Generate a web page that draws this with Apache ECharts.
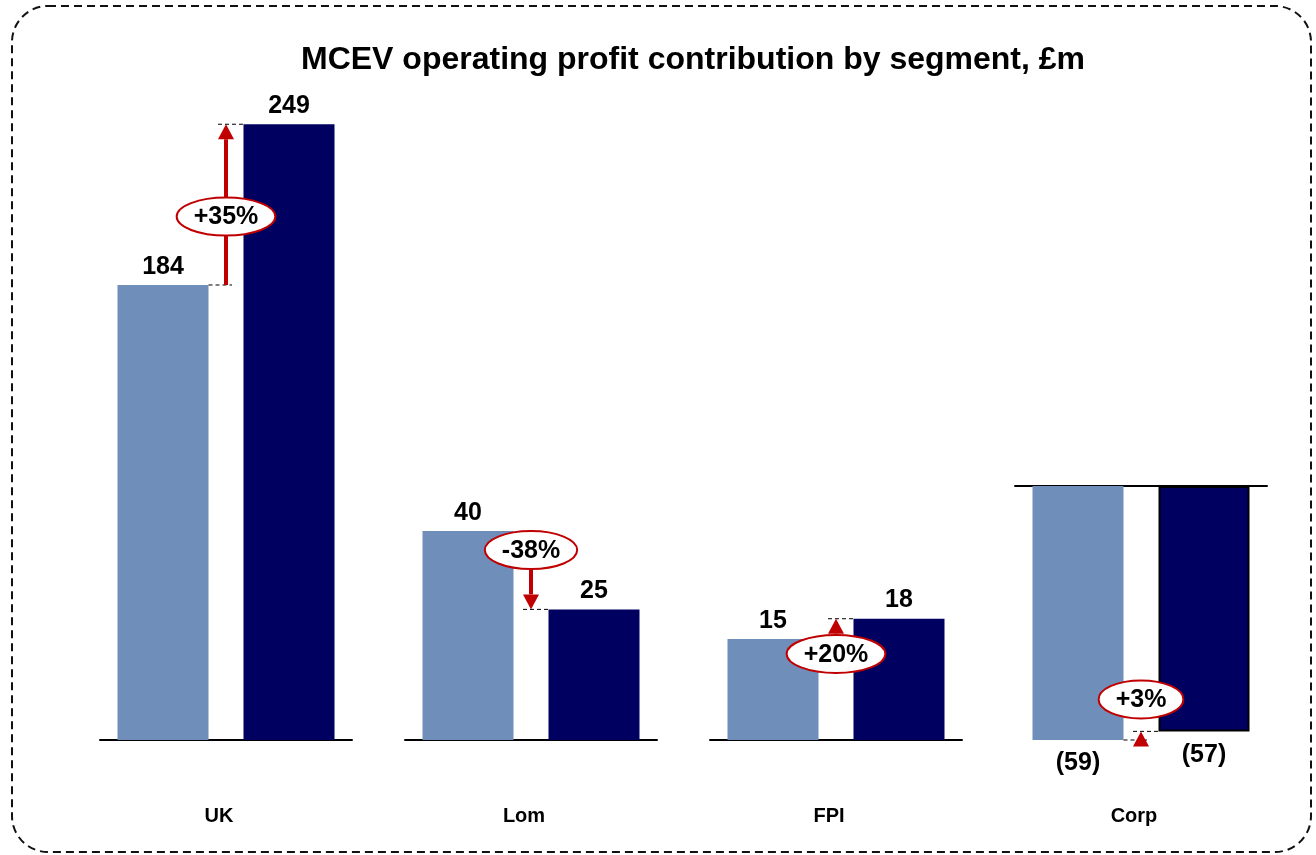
<!DOCTYPE html>
<html>
<head>
<meta charset="utf-8">
<script src="https://cdn.jsdelivr.net/npm/echarts@6/dist/echarts.min.js"></script>
<style>
html,body{margin:0;padding:0;background:#fff;}
#chart{width:1316px;height:855px;}
</style>
</head>
<body>
<div id="chart"></div>
<script>
// ---- data ----
const segments = ['UK', 'Lom', 'FPI', 'Corp'];
const periods = ['Prior', 'Current'];
const priorValues = [184, 40, 15, -59];
const currentValues = [249, 25, 18, -57];
const changeLabels = ['+35%', '-38%', '+20%', '+3%'];
const titleText = 'MCEV operating profit contribution by segment, £m';

// ---- layout / style ----
const FONT = "'Liberation Sans', Arial, Helvetica, sans-serif";
const LIGHT = '#6F8FBA', DARK = '#000060', RED = '#C00000';
const panelLeft = [100, 405, 710, 1015];
const panelWidth = 252;
const panelTop = [100, 100, 100, 486];
const panelBottom = 740;
const yMin = [0, 0, 0, -59];
const yMax = [258.8, 122.5, 95, 0];
const barWidth = 91;
const ellipseAnchor = ['mid', 'from', 'from', 'to'];
const ellipseOffset = [12, 19, 15, -32];
const ellipseRy = 19;
const labelFont = 'bold 25px ' + FONT;

const measureCtx = document.createElement('canvas').getContext('2d');
function textWidth(t, font) { measureCtx.font = font; return measureCtx.measureText(t).width; }

const chart = echarts.init(document.getElementById('chart'), null, {renderer: 'canvas'});

const grids = [], xAxes = [], yAxes = [], series = [], graphics = [];

segments.forEach((seg, i) => {
  grids.push({left: panelLeft[i], width: panelWidth, top: panelTop[i], height: panelBottom - panelTop[i], containLabel: false});
  xAxes.push({
    type: 'category', gridIndex: i, data: periods,
    axisLine: {show: true, onZero: true, lineStyle: {color: '#000', width: 2}},
    axisTick: {show: false}, axisLabel: {show: false}, splitLine: {show: false}
  });
  yAxes.push({type: 'value', gridIndex: i, min: yMin[i], max: yMax[i], show: false, splitLine: {show: false}});

  const vals = [priorValues[i], currentValues[i]];
  series.push({
    type: 'bar', xAxisIndex: i, yAxisIndex: i, barWidth: barWidth, z: 2,
    data: vals.map((v, k) => ({
      value: v,
      itemStyle: k === 0 ? {color: LIGHT} :
        (v < 0 ? {color: DARK, borderColor: '#000', borderWidth: 2} : {color: DARK}),
      label: {
        show: true,
        position: v < 0 ? 'bottom' : 'top',
        distance: v < 0 ? 11 : (k === 0 ? 5 : 6),
        formatter: p => (p.value < 0 ? '(' + Math.abs(p.value) + ')' : String(p.value)),
        color: '#000', fontSize: 25, fontWeight: 'bold', fontFamily: FONT
      }
    }))
  });

  series.push({
    type: 'custom', xAxisIndex: i, yAxisIndex: i, z: 10,
    data: [[0, priorValues[i], currentValues[i]]],
    encode: {x: 0, y: [1, 2]},
    renderItem: (params, api) => {
      const a = api.coord([0, api.value(1)]);
      const b = api.coord([1, api.value(2)]);
      const band = b[0] - a[0];
      const xm = (a[0] + b[0]) / 2;
      const gapHalf = band / 2 - barWidth / 2;
      const y1 = a[1], y2 = b[1];
      const dir = y2 > y1 ? 1 : -1;
      const head = 15, hw = 8;
      let cy;
      if (ellipseAnchor[i] === 'mid') cy = (y1 + y2) / 2 + ellipseOffset[i];
      else if (ellipseAnchor[i] === 'from') cy = y1 + ellipseOffset[i];
      else cy = y2 + ellipseOffset[i];
      const children = [];
      const dash = {stroke: '#000', lineWidth: 1, lineDash: [4, 3], fill: null};
      if (Math.abs(cy - y1) > ellipseRy + 2) {
        children.push({type: 'line', shape: {x1: xm - gapHalf, y1: y1, x2: xm + 6, y2: y1}, style: dash});
      }
      children.push({type: 'line', shape: {x1: xm - 8, y1: y2, x2: xm + gapHalf, y2: y2}, style: dash});
      if (Math.abs(y2 - y1) > head) {
        children.push({type: 'line', shape: {x1: xm, y1: y1, x2: xm, y2: y2 - dir * head},
          style: {stroke: RED, lineWidth: 4}});
      }
      children.push({type: 'polygon', shape: {points: [[xm, y2], [xm - hw, y2 - dir * head], [xm + hw, y2 - dir * head]]},
        style: {fill: RED}});
      const tw = textWidth(changeLabels[i], labelFont);
      children.push({type: 'ellipse', shape: {cx: xm, cy: cy, rx: (tw + 34) / 2, ry: ellipseRy},
        style: {fill: '#fff', stroke: RED, lineWidth: 2}});
      children.push({type: 'text', x: xm, y: cy + 1,
        style: {text: changeLabels[i], font: labelFont, fill: '#000', align: 'center', verticalAlign: 'middle', textAlign: 'center', textVerticalAlign: 'middle'}});
      return {type: 'group', children: children};
    }
  });

  graphics.push({
    type: 'text', x: panelLeft[i] + panelWidth / 2 - 7, y: 816, z: 5,
    style: {text: seg, font: 'bold 20px ' + FONT, fill: '#000', align: 'center', verticalAlign: 'middle', textAlign: 'center', textVerticalAlign: 'middle'}
  });
});

graphics.push({
  type: 'rect', z: 0, shape: {x: 12, y: 6, width: 1299, height: 846, r: 36},
  style: {fill: 'none', stroke: '#111', lineWidth: 2, lineDash: [8, 5]}
});

chart.setOption({
  animation: false,
  backgroundColor: '#fff',
  title: {
    text: titleText, left: 688, top: 39, textAlign: 'center',
    textStyle: {fontSize: 32, fontWeight: 'bold', fontFamily: FONT, color: '#000'}
  },
  grid: grids,
  xAxis: xAxes,
  yAxis: yAxes,
  series: series,
  graphic: graphics
});
</script>
</body>
</html>
